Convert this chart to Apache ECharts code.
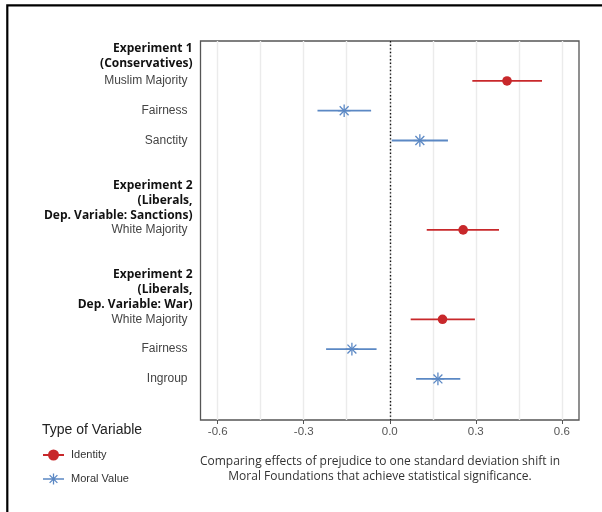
<!DOCTYPE html>
<html>
<head>
<meta charset="utf-8">
<script src="https://cdn.jsdelivr.net/npm/echarts@6/dist/echarts.min.js"></script>
<style>html,body{margin:0;padding:0;background:#fff;}#c{width:602px;height:512px;}</style>
</head>
<body>
<div id="c"></div>
<script>
// ---- data ----
const rowLabels = [
  'Experiment 1\n(Conservatives)',
  'Muslim Majority',
  'Fairness',
  'Sanctity',
  '',
  'Experiment 2\n(Liberals,\nDep. Variable: Sanctions)',
  'White Majority',
  '',
  'Experiment 2\n(Liberals,\nDep. Variable: War)',
  'White Majority',
  'Fairness',
  'Ingroup'
];
const headerRows = [0, 5, 8];

const identityRows = [1, 6, 9];
const identityEst  = [0.409, 0.256, 0.184];
const identityLo   = [0.288, 0.129, 0.073];
const identityHi   = [0.531, 0.381, 0.297];

const moralRows = [2, 3, 10, 11];
const moralEst  = [-0.159, 0.105, -0.132, 0.168];
const moralLo   = [-0.252, 0.007, -0.222, 0.092];
const moralHi   = [-0.065, 0.203, -0.046, 0.246];

const xMajorTicks = [-0.6, -0.3, 0, 0.3, 0.6];
const xGridTicks  = [-0.6, -0.45, -0.3, -0.15, 0, 0.15, 0.3, 0.45, 0.6];

const seriesNames = ['Identity', 'Moral Value'];
const caption = 'Comparing effects of prejudice to one standard deviation shift in\nMoral Foundations that achieve statistical significance.';
const legendTitle = 'Type of Variable';

// ---- styles ----
const RED = '#c8282b';
const BLUE = '#5b88c4';
const FIRST_HEADER_SHIFT = 0.17; // label nudge (row units) for first header block

function buildData(rows, est, lo, hi) {
  return rows.map((r, i) => [r, est[i], lo[i], hi[i]]);
}

function segPoly(x1, y1, x2, y2, hw) {
  const dx = x2 - x1, dy = y2 - y1, L = Math.hypot(dx, dy);
  const nx = -dy / L * hw, ny = dx / L * hw;
  const p = [[x1 + nx, y1 + ny], [x2 + nx, y2 + ny], [x2 - nx, y2 - ny], [x1 - nx, y1 - ny]];
  return 'M' + p.map(q => q[0].toFixed(3) + ',' + q[1].toFixed(3)).join(' L') + ' Z';
}
// legend icon paths (box 21 x 11)
const identityIcon = 'path://' + segPoly(0, 5.5, 21, 5.5, 0.9) +
  ' M10.5,0 A5.5,5.5 0 0,0 10.5,11 A5.5,5.5 0 0,0 10.5,0 Z';
let ast = segPoly(0, 5.5, 21, 5.5, 0.8);
for (let k = 0; k < 4; k++) {
  const a = k * Math.PI / 4;
  const c = Math.cos(a) * 5.5, s = Math.sin(a) * 5.5;
  ast += ' ' + segPoly(10.5 - c, 5.5 - s, 10.5 + c, 5.5 + s, 0.65);
}
const moralIcon = 'path://' + ast;

function makeRender(color, kind) {
  return function (params, api) {
    const y = api.value(0);
    const c = api.coord([api.value(1), y]);
    const lo = api.coord([api.value(2), y]);
    const hi = api.coord([api.value(3), y]);
    const children = [{
      type: 'line',
      shape: { x1: lo[0], y1: lo[1], x2: hi[0], y2: hi[1] },
      style: { stroke: color, lineWidth: 1.8 }
    }];
    if (kind === 'dot') {
      children.push({
        type: 'circle',
        shape: { cx: c[0], cy: c[1], r: 4.8 },
        style: { fill: color }
      });
    } else {
      const R = 6.3;
      for (let k = 0; k < 4; k++) {
        const a = k * Math.PI / 4;
        children.push({
          type: 'line',
          shape: { x1: c[0] - Math.cos(a) * R, y1: c[1] - Math.sin(a) * R,
                   x2: c[0] + Math.cos(a) * R, y2: c[1] + Math.sin(a) * R },
          style: { stroke: color, lineWidth: 1.3 }
        });
      }
    }
    return { type: 'group', children: children };
  };
}

const chart = echarts.init(document.getElementById('c'), null, { renderer: 'canvas' });

const labelPositions = rowLabels.map((_, i) => i === 0 ? i + FIRST_HEADER_SHIFT : i);

const option = {
  animation: false,
  backgroundColor: '#fff',
  title: [{
    text: legendTitle,
    left: 42,
    top: 423,
    padding: 0,
    textStyle: { fontFamily: 'Liberation Sans', fontSize: 14, fontWeight: 'normal', color: '#222' }
  }],
  legend: {
    orient: 'vertical',
    left: 43,
    top: 449.5,
    padding: 0,
    itemWidth: 21,
    itemHeight: 11,
    itemGap: 13,
    selectedMode: false,
    textStyle: { fontFamily: 'Liberation Sans', fontSize: 11, color: '#333', padding: [0, 0, 0, 2] },
    data: [
      { name: seriesNames[0], icon: identityIcon, itemStyle: { color: RED } },
      { name: seriesNames[1], icon: moralIcon, itemStyle: { color: BLUE } }
    ]
  },
  grid: {
    left: 200.5, top: 41, right: 23, bottom: 92,
    show: true, borderColor: '#555', borderWidth: 1.3, backgroundColor: 'transparent',
    containLabel: false
  },
  xAxis: [{
    type: 'value', min: -0.66, max: 0.66, position: 'bottom',
    axisLine: { show: false, onZero: false },
    axisTick: { show: true, length: 4, customValues: xMajorTicks, lineStyle: { color: '#555', width: 1 } },
    axisLabel: {
      customValues: xMajorTicks, margin: 6,
      fontFamily: 'Liberation Sans', fontSize: 11.5, color: '#555',
      formatter: v => Number(v).toFixed(1)
    },
    splitLine: { show: false }
  }, {
    type: 'value', min: -0.66, max: 0.66, position: 'top',
    axisLine: { show: false, onZero: false },
    axisTick: { show: false, customValues: xGridTicks },
    axisLabel: { show: false },
    splitLine: { show: true, lineStyle: { color: '#ebebeb', width: 1.4 } }
  }],
  yAxis: {
    type: 'value', inverse: true, min: -0.34, max: 12.38,
    axisLine: { show: false, onZero: false },
    axisTick: { show: false },
    splitLine: { show: false },
    axisLabel: {
      customValues: labelPositions,
      margin: 8,
      align: 'right',
      formatter: function (v) {
        const i = Math.round(v);
        const t = rowLabels[i] || '';
        if (!t) return '';
        if (headerRows.indexOf(i) >= 0) {
          return t.split('\n').map(s => '{h|' + s + '}').join('\n');
        }
        return '{n|' + t + '}';
      },
      rich: {
        h: { fontFamily: 'Open Sans', fontWeight: 'bold', fontSize: 12, color: '#111', lineHeight: 15, align: 'right' },
        n: { fontFamily: 'Liberation Sans', fontSize: 12, color: '#444', lineHeight: 15, align: 'right', padding: [0, 5, 0, 0] }
      }
    }
  },
  series: [{
    name: seriesNames[0],
    type: 'custom',
    xAxisIndex: 0,
    renderItem: makeRender(RED, 'dot'),
    encode: { x: [1, 2, 3], y: 0 },
    data: buildData(identityRows, identityEst, identityLo, identityHi),
    itemStyle: { color: RED },
    z: 5,
    markLine: {
      silent: true,
      symbol: ['none', 'none'],
      label: { show: false },
      lineStyle: { color: '#111', width: 1.4, type: [1.4, 2.2] },
      data: [{ xAxis: 0 }],
      z: 3
    }
  }, {
    name: seriesNames[1],
    type: 'custom',
    xAxisIndex: 0,
    renderItem: makeRender(BLUE, 'star'),
    encode: { x: [1, 2, 3], y: 0 },
    data: buildData(moralRows, moralEst, moralLo, moralHi),
    itemStyle: { color: BLUE },
    z: 5
  }],
  graphic: [{
    type: 'rect',
    shape: { x: 7.3, y: 5.3, width: 900, height: 900 },
    style: { fill: 'none', stroke: '#000', lineWidth: 2.2 },
    silent: true
  }, {
    type: 'text',
    x: 380, y: 454,
    style: {
      text: caption, textAlign: 'center', textVerticalAlign: 'top',
      fontFamily: 'Open Sans', fontSize: 12, lineHeight: 15, fill: '#333'
    },
    silent: true
  }]
};
chart.setOption(option);
</script>
</body>
</html>
